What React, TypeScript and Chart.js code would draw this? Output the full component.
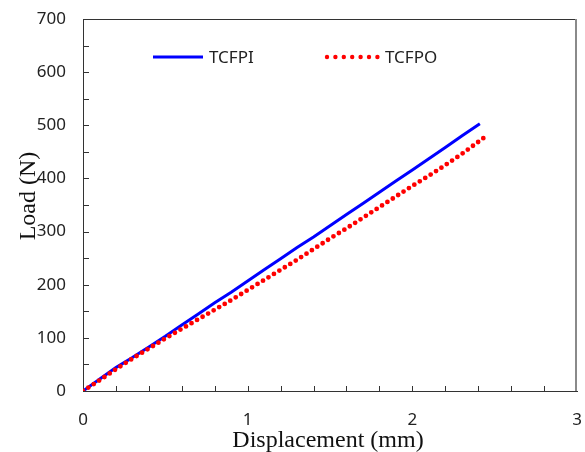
import React, { useEffect, useRef } from "react";
import { Chart, registerables } from "chart.js";

Chart.register(...registerables);

// ---- data ----
const BLUE_NAME = "TCFPI";
const RED_NAME = "TCFPO";
const BLUE_X = [0, 0.1, 0.2, 0.3, 0.4, 0.5, 0.6, 0.7, 0.8, 0.9, 1.0, 1.1, 1.2, 1.3, 1.4, 1.5, 1.6, 1.7, 1.8, 1.9, 2.0, 2.1, 2.2, 2.3, 2.41];
const BLUE_Y = [0, 22, 44, 63, 83, 103, 124, 145, 166, 186, 207, 228, 249, 270, 290, 311, 332, 353, 374, 395, 416, 437, 458, 480, 503];
const RED_X = [0, 0.1, 0.2, 0.3, 0.4, 0.5, 0.6, 0.7, 0.8, 0.9, 1.0, 1.1, 1.2, 1.3, 1.4, 1.5, 1.6, 1.7, 1.8, 1.9, 2.0, 2.1, 2.2, 2.3, 2.45];
const RED_Y = [0, 20, 41, 61, 80, 99, 117, 135, 153, 171, 190, 209, 228, 247, 267, 287, 306, 326, 346, 366, 386, 405, 425, 446, 480];
const X_TICKS = [0, 1, 2, 3];
const Y_TICKS = [0, 100, 200, 300, 400, 500, 600, 700];
const X_TITLE = "Displacement (mm)";
const Y_TITLE = "Load (N)";

const SANS = "'Noto Sans', 'DejaVu Sans', sans-serif";
const SERIF = "'Liberation Serif', 'Times New Roman', serif";

const decorPlugin = {
  id: "decor",
  afterDraw(chart: any) {
    const ctx = chart.ctx;
    const { left, right, top, bottom } = chart.chartArea;
    const xs = chart.scales.x;
    const ys = chart.scales.y;
    ctx.save();
    // frame top and right
    ctx.strokeStyle = "#333";
    ctx.lineWidth = 1;
    ctx.beginPath();
    ctx.moveTo(left, top + 0.5);
    ctx.lineTo(right, top + 0.5);
    ctx.stroke();
    ctx.strokeStyle = "#8a8a8a";
    ctx.lineWidth = 2;
    ctx.beginPath();
    ctx.moveTo(right - 1, top);
    ctx.lineTo(right - 1, bottom);
    ctx.stroke();
    // inside ticks
    ctx.strokeStyle = "#333";
    ctx.lineWidth = 1;
    ctx.beginPath();
    for (let v = 50; v < 700; v += 50) {
      const py = Math.round(ys.getPixelForValue(v)) + 0.5;
      ctx.moveTo(left, py);
      ctx.lineTo(left + 6, py);
    }
    for (let i = 1; i < 15; i++) {
      const px = Math.round(xs.getPixelForValue(i * 0.2)) + 0.5;
      ctx.moveTo(px, bottom);
      ctx.lineTo(px, bottom - 5);
    }
    ctx.stroke();
    // legend
    ctx.strokeStyle = "#0000ff";
    ctx.lineWidth = 3;
    ctx.beginPath();
    ctx.moveTo(153, 57);
    ctx.lineTo(203, 57);
    ctx.stroke();
    ctx.fillStyle = "#ff0000";
    for (let i = 0; i < 7; i++) {
      ctx.beginPath();
      ctx.arc(327 + i * 8.4, 57, 2.2, 0, Math.PI * 2);
      ctx.fill();
    }
    ctx.fillStyle = "#222";
    ctx.font = `17px ${SANS}`;
    ctx.textBaseline = "middle";
    ctx.textAlign = "left";
    ctx.fillText(BLUE_NAME, 209, 58);
    ctx.fillText(RED_NAME, 385, 58);
    // axis titles
    ctx.fillStyle = "#111";
    ctx.font = `24px ${SERIF}`;
    ctx.textAlign = "center";
    ctx.textBaseline = "alphabetic";
    ctx.fillText(X_TITLE, 328, 447);
    ctx.translate(35, 196);
    ctx.rotate(-Math.PI / 2);
    ctx.fillText(Y_TITLE, 0, 0);
    ctx.restore();
  },
};

export default function App() {
  const ref = useRef<HTMLCanvasElement>(null);
  useEffect(() => {
    document.body.style.margin = "0";
    const chart = new Chart(ref.current!, {
      type: "line",
      data: {
        datasets: [
          {
            label: RED_NAME,
            data: RED_X.map((x, i) => ({ x, y: RED_Y[i] })),
            borderColor: "#ff0000",
            borderWidth: 4.8,
            borderDash: [0, 6.4],
            borderCapStyle: "round",
            pointRadius: 0,
            fill: false,
            tension: 0,
          },
          {
            label: BLUE_NAME,
            data: BLUE_X.map((x, i) => ({ x, y: BLUE_Y[i] })),
            borderColor: "#0000ff",
            borderWidth: 3,
            pointRadius: 0,
            fill: false,
            tension: 0,
          },
        ],
      },
      options: {
        animation: false,
        responsive: false,
        maintainAspectRatio: false,
        layout: { padding: { top: 19, right: 8, left: 0, bottom: 0 } },
        plugins: { legend: { display: false }, tooltip: { enabled: false } },
        scales: {
          x: {
            type: "linear",
            min: 0,
            max: 3,
            afterFit: (s: any) => { s.height = 61; s.paddingLeft = 0; s.paddingRight = 0; },
            afterBuildTicks: (s: any) => { s.ticks = X_TICKS.map((v) => ({ value: v })); },
            grid: { display: false, drawTicks: false },
            border: { display: true, color: "#333", width: 1 },
            ticks: { padding: 19, color: "#222", font: { family: SANS, size: 17 }, maxRotation: 0 },
          },
          y: {
            type: "linear",
            min: 0,
            max: 700,
            afterFit: (s: any) => { s.width = 83; s.paddingTop = 0; s.paddingBottom = 0; },
            afterBuildTicks: (s: any) => { s.ticks = Y_TICKS.map((v) => ({ value: v })); },
            grid: { display: false, drawTicks: false },
            border: { display: true, color: "#333", width: 1 },
            ticks: { padding: 17, color: "#222", font: { family: SANS, size: 17 } },
          },
        },
      },
      plugins: [decorPlugin],
    } as any);
    return () => chart.destroy();
  }, []);
  return (
    <div style={{ position: "absolute", left: 0, top: 0, width: 585, height: 452 }}>
      <canvas ref={ref} width={585} height={452} style={{ width: 585, height: 452 }} />
    </div>
  );
}
